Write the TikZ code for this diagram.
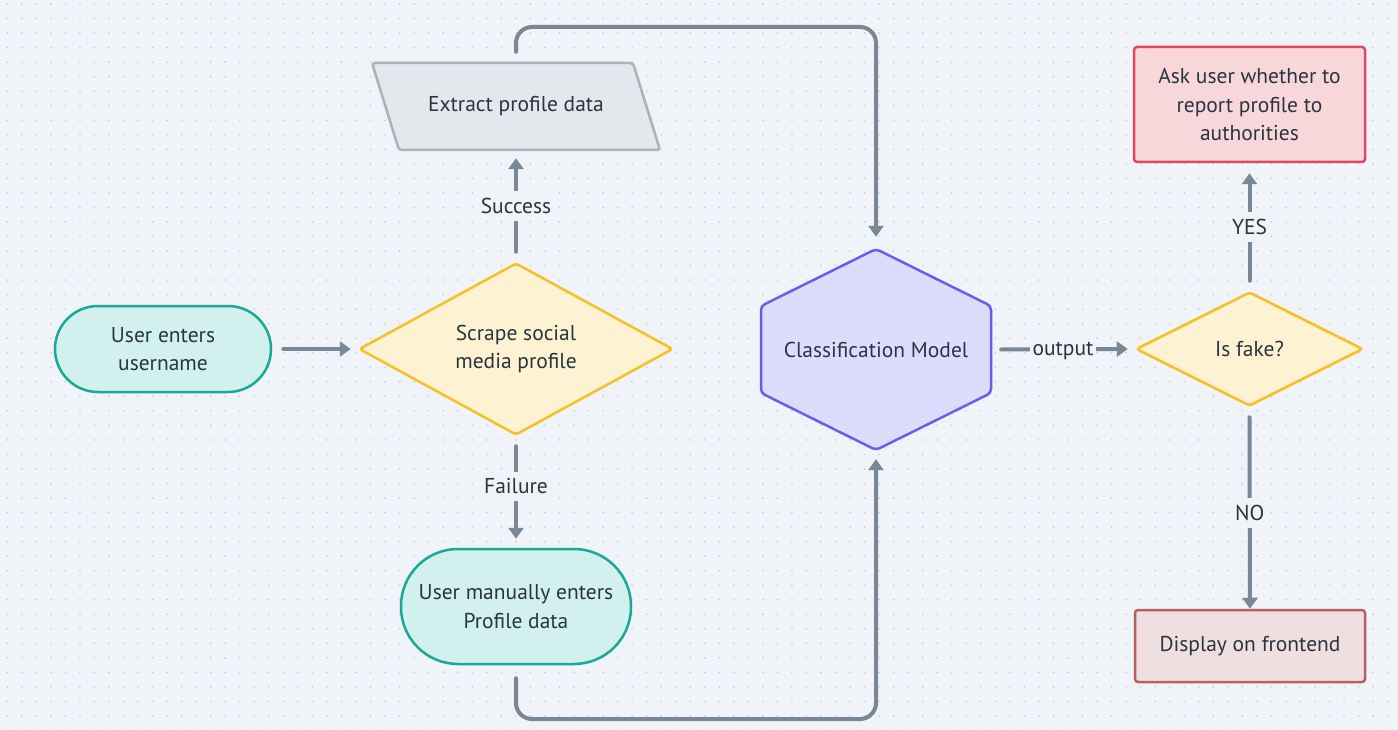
\documentclass[tikz,border=0pt]{standalone}
\usepackage{fontspec}
\setmainfont{PT Sans}
\usetikzlibrary{arrows.meta,shapes.geometric,calc}
\definecolor{bg}{HTML}{F0F3F7}
\definecolor{dotc}{HTML}{C3CBD5}
\definecolor{txt}{HTML}{2A3441}
\definecolor{arrc}{HTML}{7A8896}
\definecolor{tealb}{HTML}{19A99A}
\definecolor{tealf}{HTML}{D2F0EE}
\definecolor{yelb}{HTML}{F6C026}
\definecolor{yelf}{HTML}{FDF2D1}
\definecolor{grayb}{HTML}{A7B4C0}
\definecolor{grayf}{HTML}{E3E8EC}
\definecolor{purb}{HTML}{6B5CF0}
\definecolor{purf}{HTML}{DEDCFD}
\definecolor{redb}{HTML}{DC4A5F}
\definecolor{redf}{HTML}{F8D7DB}
\definecolor{brb}{HTML}{B5625F}
\definecolor{brf}{HTML}{EFDFE0}
\begin{document}
\begin{tikzpicture}[x=1pt,y=-1pt,
  every node/.style={font=\fontsize{21.5}{28.7}\selectfont, text=txt, align=center},
  shapeline/.style={line width=2.5pt},
  term/.style={shapeline, draw=tealb, fill=tealf, inner sep=0pt},
  decide/.style={shapeline, diamond, draw=yelb, fill=yelf, inner sep=0pt, rounded corners=3pt, aspect=1.8},
  procbox/.style={shapeline, rectangle, rounded corners=3pt, inner sep=0pt},
  plain/.style={inner sep=0pt},
  arr/.style={draw=arrc, line width=4pt, line cap=round, -{Triangle[length=11pt,width=15pt]}},
  lbl/.style={fill=bg, inner xsep=3pt, inner ysep=7pt}
]
\fill[bg] (0,0) rectangle (1398,730);
\useasboundingbox (0,0) rectangle (1398,730);
\foreach \i in {0,...,96}{
  \foreach \j in {0,...,50}{
    \fill[dotc] ({7.3+\i*14.53},{4+\j*14.53}) circle (0.9);
  }
}
% shapes drawn as paths
\draw[shapeline, draw=grayb, fill=grayf, rounded corners=3pt]
  (372,63) -- (633,63) -- (660,150) -- (399,150) -- cycle;
\draw[shapeline, draw=purb, fill=purf, rounded corners=4pt]
  (876,249) -- (991,306) -- (991,393) -- (876,450) -- (761,393) -- (761,306) -- cycle;
% nodes
\node[term, rounded corners=43pt, minimum width=216pt, minimum height=86pt] (user) at (163,349) {User enters\\username};
\node[decide, minimum width=314pt, minimum height=172pt] (scrape) at (516,349) {Scrape social\\media profile};
\node[plain, minimum width=261pt, minimum height=87pt] (extract) at (516,106.5) {Extract profile data};
\node[term, rounded corners=57pt, minimum width=230pt, minimum height=115pt] (manual) at (516,606.5) {User manually enters\\Profile data};
\node[plain, minimum width=230pt, minimum height=201pt] (cm) at (876,349.5) {Classification Model};
\node[decide, minimum width=227pt, minimum height=114pt, aspect=2] (fake) at (1249.5,349) {Is fake?};
\node[procbox, draw=redb, fill=redf, minimum width=231pt, minimum height=115pt] (ask) at (1249.5,104.5) {Ask user whether to\\report profile to\\authorities};
\node[procbox, draw=brb, fill=brf, minimum width=230pt, minimum height=72pt] (disp) at (1250,646) {Display on frontend};
\coordinate (tr) at (876,27);
\coordinate (br) at (876,719);
\coordinate (bl) at (516,719);
% connectors
\draw[arr, shorten <=11pt, shorten >=7pt] (user.east) -- (scrape.west);
\draw[arr, shorten <=10pt, shorten >=8pt] (scrape.north) -- node[lbl]{Success} (extract.south);
\draw[arr, shorten <=10pt, shorten >=9pt] (scrape.south) -- node[lbl, pos=0.45]{Failure} (manual.north);
\draw[arr, rounded corners=16pt, shorten <=11pt, shorten >=12pt] (extract.north) -- (extract.north |- tr) -- (tr) -- (cm.north);
\draw[arr, rounded corners=16pt, shorten <=13pt, shorten >=9pt] (manual.south) -- (bl) -- (br) -- (cm.south);
\draw[arr, shorten <=10pt, shorten >=7pt] (cm.east) -- node[lbl, yshift=-2pt]{output} (fake.west);
\draw[arr, shorten <=10pt, shorten >=10pt] (fake.north) -- node[lbl]{YES} (ask.south);
\draw[arr, shorten <=10pt, shorten >=0pt] (fake.south) -- node[lbl, pos=0.525]{NO} (disp.north);
\end{tikzpicture}
\end{document}
